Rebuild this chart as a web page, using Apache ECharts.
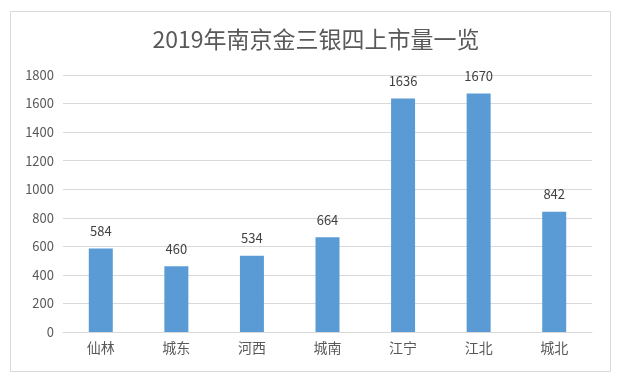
<!DOCTYPE html>
<html>
<head>
<meta charset="utf-8">
<script src="https://cdn.jsdelivr.net/npm/echarts@6/dist/echarts.min.js"></script>
<style>
html,body{margin:0;padding:0;background:#fff;}
#chart{width:632px;height:388px;}
</style>
</head>
<body>
<div id="chart"></div>
<script>
var titleText = '2019年南京金三银四上市量一览';
var categories = ['仙林', '城东', '河西', '城南', '江宁', '江北', '城北'];
var values = [584, 460, 534, 664, 1636, 1670, 842];
var yMin = 0, yMax = 1800, yInterval = 200;

var font = '"Noto Sans CJK SC", "Noto Sans", sans-serif';
var chart = echarts.init(document.getElementById('chart'), null, {renderer: 'canvas'});
chart.setOption({
  animation: false,
  backgroundColor: '#ffffff',
  graphic: [{
    type: 'rect',
    shape: {x: 10.5, y: 11.5, width: 600, height: 360},
    style: {fill: 'none', stroke: '#d9d9d9', lineWidth: 1},
    silent: true
  }],
  title: {
    text: titleText,
    left: 'center',
    top: 23,
    textStyle: {fontFamily: font, fontSize: 23, fontWeight: 'normal', color: '#595959'}
  },
  grid: {left: 63, right: 40, top: 75, bottom: 56, containLabel: false},
  xAxis: {
    type: 'category',
    data: categories,
    axisLine: {show: true, lineStyle: {color: '#d9d9d9'}},
    axisTick: {show: false},
    axisLabel: {fontFamily: font, fontSize: 14, color: '#595959', margin: 9}
  },
  yAxis: {
    type: 'value',
    min: yMin, max: yMax, interval: yInterval,
    axisLine: {show: false},
    axisTick: {show: false},
    splitLine: {lineStyle: {color: '#d9d9d9'}},
    axisLabel: {fontFamily: font, fontSize: 13, color: '#595959', margin: 9,
      formatter: function (v) { return String(v); }}
  },
  series: [{
    type: 'bar',
    data: values,
    barWidth: 24,
    itemStyle: {color: '#5b9bd5'},
    label: {show: true, position: 'top', distance: 11, fontFamily: font, fontSize: 13, color: '#404040'}
  }]
});
</script>
</body>
</html>
